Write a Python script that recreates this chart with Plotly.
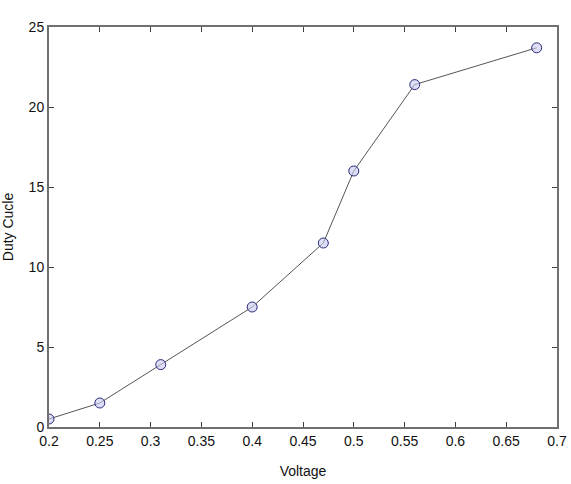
import plotly.graph_objects as go

voltage = [0.2, 0.25, 0.31, 0.40, 0.47, 0.50, 0.56, 0.68]
duty_cycle = [0.5, 1.5, 3.9, 7.5, 11.5, 16.0, 21.4, 23.7]
x_ticks = [0.2, 0.25, 0.3, 0.35, 0.4, 0.45, 0.5, 0.55, 0.6, 0.65, 0.7]
x_tick_labels = ["0.2", "0.25", "0.3", "0.35", "0.4", "0.45", "0.5", "0.55", "0.6", "0.65", "0.7"]
y_ticks = [0, 5, 10, 15, 20, 25]

fig = go.Figure()
fig.add_trace(go.Scatter(
    x=voltage, y=duty_cycle, mode="lines+markers",
    line=dict(color="#555555", width=1),
    marker=dict(symbol="circle", size=10, color="rgba(200,200,240,0.6)",
                line=dict(color="#2a2a7a", width=1)),
    showlegend=False,
))

axis_common = dict(
    showline=True, linecolor="#707070", linewidth=2, mirror="ticks",
    ticks="inside", ticklen=5, tickcolor="#404040", tickwidth=1,
    showgrid=False, zeroline=False, automargin=False,
    tickfont=dict(family="Liberation Sans, Arial", size=14, color="#111111"),
)

fig.update_layout(
    width=571, height=484,
    margin=dict(l=49, r=14, t=27, b=57),
    paper_bgcolor="white", plot_bgcolor="white",
    xaxis=dict(range=[0.2, 0.7], tickvals=x_ticks, ticktext=x_tick_labels,
               title=dict(text="Voltage", font=dict(family="Liberation Sans, Arial", size=14, color="#111111"), standoff=18),
               **axis_common),
    yaxis=dict(range=[0, 25], tickvals=y_ticks,
               title=dict(text="Duty Cucle", font=dict(family="Liberation Sans, Arial", size=14, color="#111111"), standoff=14),
               **axis_common),
)

fig.write_html("out.html")
